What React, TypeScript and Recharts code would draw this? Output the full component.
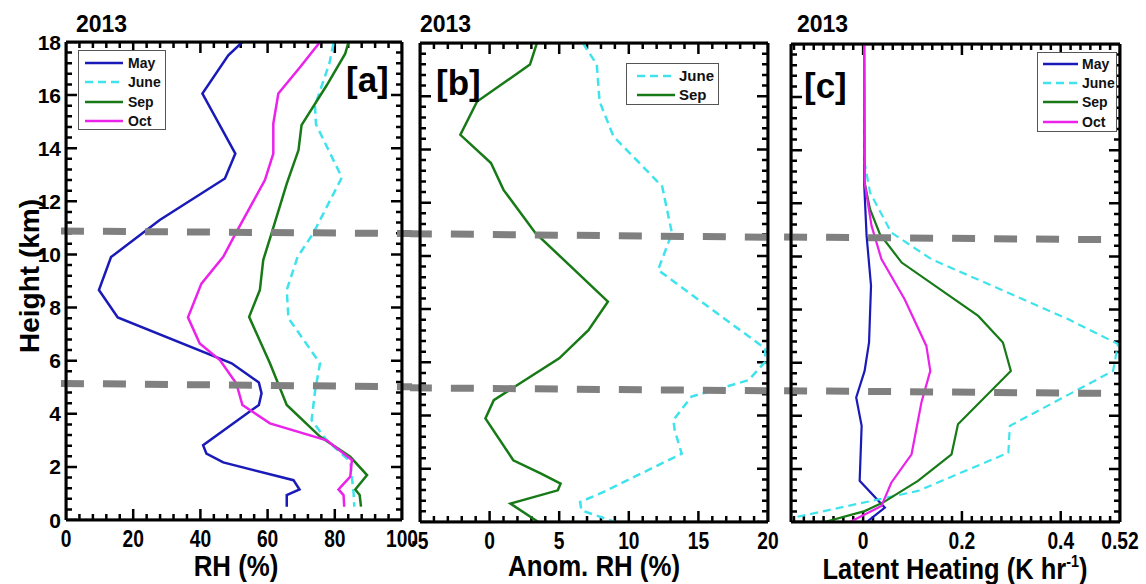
import React from "react";
import { LineChart, Line, XAxis, YAxis, ReferenceLine } from "recharts";

const SANS = "'Liberation Sans', Arial, sans-serif";

// axis ticks
const heightTicks = [0, 2, 4, 6, 8, 10, 12, 14, 16, 18];
const rhTicks = [0, 20, 40, 60, 80, 100];
const anomTicks = [-5, 0, 5, 10, 15, 20];
const lhTicks = [0, 0.2, 0.4, 0.52];

// [a] RH (%) profiles, height in km
const rhMayH = [18, 17.5, 16.06, 13.8, 12.86, 11.3, 9.9, 8.66, 7.63, 5.9, 5.18, 4.77, 4.33, 2.82, 2.5, 2.17, 1.5, 1.15, 0.94, 0.5];
const rhMay = [52.5, 48.3, 40.6, 50.4, 47.3, 27.9, 13.4, 9.8, 15.4, 49.3, 57.4, 58.2, 57.4, 40.8, 41.8, 46.8, 67.7, 69.5, 65.7, 65.7];
const rhJuneH = [17.94, 17.2, 15.6, 14.9, 12.9, 10.8, 9.9, 8.66, 7.6, 5.9, 4.83, 3.76, 3.0, 2.2, 1.0, 0.5];
const rhJune = [79.6, 78.4, 74.1, 74.4, 82.1, 73.6, 68.9, 65.7, 66.2, 75.6, 74.1, 73.1, 77.6, 84.6, 85.6, 85.8];
const rhSepH = [18, 17.56, 16.37, 14.87, 13.93, 12.67, 10.8, 9.79, 8.66, 7.65, 5.9, 4.33, 3.14, 2.38, 1.69, 1.15, 0.94, 0.5];
const rhSep = [84.1, 83.1, 77.6, 70.1, 69.2, 65.7, 61.2, 58.7, 57.7, 54.5, 60.7, 65.7, 75.6, 84.6, 89.6, 86.1, 87.4, 87.8];
const rhOctH = [18, 17.06, 16.06, 14.93, 13.8, 12.8, 10.79, 9.91, 8.9, 7.63, 6.65, 6.02, 5.14, 4.33, 3.64, 3.0, 2.26, 1.63, 1.15, 0.94, 0.5];
const rhOct = [75.6, 69.7, 63.2, 61.7, 61.7, 59.2, 50.5, 46.8, 40.3, 36.3, 39.8, 45.8, 50.7, 52.5, 60.7, 77.6, 85.1, 84.6, 81.1, 82.6, 82.8];

// [b] RH anomaly (%)
const anJuneH = [18, 17.19, 15.8, 14.49, 12.61, 10.85, 9.47, 6.52, 6.02, 5.33, 4.71, 3.83, 3.45, 2.57, 1.13, 0.75, 0.44, 0];
const anJune = [6.7, 7.7, 7.9, 8.9, 12.4, 13.1, 12.1, 19.8, 19.8, 18.6, 14.5, 13.2, 13.3, 13.8, 8.2, 6.5, 6.6, 9.0];
const anSepH = [18, 17.19, 15.8, 14.55, 13.49, 12.48, 10.85, 9.72, 8.28, 7.21, 6.15, 5.08, 4.58, 3.89, 2.32, 1.82, 1.44, 1.19, 0.69, 0];
const anSep = [3.4, 2.9, -0.9, -2.1, 0.1, 1.0, 3.3, 5.6, 8.5, 7.1, 5.0, 1.8, 0.3, -0.3, 1.7, 3.7, 5.1, 4.9, 1.5, 3.5];

// [c] latent heating (K/hr)
const lhMayH = [18, 12.79, 10.78, 8.9, 6.76, 5.69, 4.69, 3.62, 1.55, 0.54, 0];
const lhMay = [0.002, 0.002, 0.007, 0.016, 0.012, 0.003, -0.014, -0.003, -0.007, 0.044, 0.007];
const lhJuneH = [18, 13.54, 12.41, 10.9, 9.9, 7.64, 6.7, 5.69, 3.62, 2.61, 1.17, 0.16];
const lhJune = [0.002, 0.003, 0.014, 0.057, 0.138, 0.415, 0.516, 0.506, 0.297, 0.294, 0.111, -0.142];
const lhSepH = [18, 12.79, 11.78, 10.84, 9.77, 7.76, 6.76, 5.69, 3.68, 2.55, 1.55, 0.73, 0.41, 0];
const lhSep = [0.002, 0.003, 0.014, 0.034, 0.078, 0.233, 0.283, 0.299, 0.192, 0.179, 0.111, 0.04, 0.003, -0.078];
const lhOctH = [18, 12.79, 11.16, 9.9, 8.39, 6.63, 5.69, 4.5, 2.55, 1.48, 0.6, 0];
const lhOct = [0.002, 0.003, 0.017, 0.037, 0.084, 0.128, 0.136, 0.118, 0.098, 0.057, 0.037, -0.027];

// grey dashed layer bounds: [height at left edge, height at right edge]
const guidesA = [[10.88, 10.79], [5.14, 5.02]];
const guidesB = [[10.83, 10.7], [5.04, 4.93]];
const guidesC = [[10.73, 10.63], [4.94, 4.84]];

const styles: Record<string, { color: string; dash?: string }> = {
  May: { color: "#1a1ab8" },
  June: { color: "#3fe3ec", dash: "8 5" },
  Sep: { color: "#177a17" },
  Oct: { color: "#ea22ea" },
};

type Series = { name: string; h: number[]; v: number[] };
type Pt = { v: number; h: number };
const toPoints = (h: number[], v: number[]) => h.map((hh, i) => ({ h: hh, v: v[i] }));

// tick positions every `step` between lo and hi, majors merged in
function allTicks(lo: number, hi: number, step: number, majors: number[]) {
  const out: number[] = [];
  const n0 = Math.ceil(lo / step - 1e-9);
  const n1 = Math.floor(hi / step + 1e-9);
  for (let i = n0; i <= n1; i++) out.push(Math.round(i * step * 1000) / 1000);
  majors.forEach((m) => {
    if (!out.some((t) => Math.abs(t - m) < 1e-6)) out.push(m);
  });
  return out.sort((a, b) => a - b);
}
const isMajor = (majors: number[], t: number) => majors.some((m) => Math.abs(m - t) < 1e-6);

const bottomLabel = (props: any) => (
  <text transform={`translate(${props.x},${props.y}) scale(0.8,1)`} textAnchor="middle" dominantBaseline="central"
    fontFamily={SANS} fontWeight="bold" fontSize={24} fill="#000">
    {String(props.payload.value)}
  </text>
);
const leftLabel = (props: any) => (
  <text x={props.x} y={props.y} textAnchor="end" dominantBaseline="central" fontFamily={SANS} fontWeight="bold" fontSize={21} fill="#000">
    {String(props.payload.value)}
  </text>
);

type PanelProps = {
  left: number;
  width: number;
  plot: { top: number; left: number; right: number; bottom: number };
  series: Series[];
  domain: [number, number];
  majors: number[];
  minorStep: number;
  guides: number[][];
  guideX: [number, number];
  yLabels: boolean;
  lineWidth: number;
};

function Panel(p: PanelProps) {
  const [d0, d1] = p.domain;
  const plotW = p.width - p.plot.left - p.plot.right;
  const plotH = 584 - p.plot.top - p.plot.bottom;
  const kmPerPx = 18 / plotH;
  const xPerPx = (d1 - d0) / plotW;
  const frame = { stroke: "#000", strokeWidth: 3 };
  const slope = (g: number[], x: number) => g[0] + ((g[1] - g[0]) * (x - d0)) / (d1 - d0);

  // inward tick marks drawn as comb lines along each side of the frame (11px major, 6px minor)
  const xt = allTicks(d0, d1, p.minorStep, p.majors);
  const yt = allTicks(0, 18, 0.4, heightTicks);
  const xLen = (t: number) => (isMajor(p.majors, t) ? 11 : 6) * kmPerPx;
  const yLen = (h: number) => (isMajor(heightTicks, h) ? 11 : 6) * xPerPx;
  const combs: Pt[][] = [
    xt.flatMap((t) => [{ v: t, h: 0 }, { v: t, h: xLen(t) }, { v: t, h: 0 }]),
    xt.flatMap((t) => [{ v: t, h: 18 }, { v: t, h: 18 - xLen(t) }, { v: t, h: 18 }]),
    yt.flatMap((h) => [{ v: d0, h }, { v: d0 + yLen(h), h }, { v: d0, h }]),
    yt.flatMap((h) => [{ v: d1, h }, { v: d1 - yLen(h), h }, { v: d1, h }]),
  ];

  // one 1px axis band per side
  const margin = { top: p.plot.top - 1, left: p.plot.left - 1, right: p.plot.right - 1, bottom: p.plot.bottom - 1 };
  return (
    <div style={{ position: "absolute", left: p.left, top: 0 }}>
      <LineChart width={p.width} height={584} margin={margin}>
        <XAxis xAxisId="b" dataKey="v" type="number" domain={p.domain} allowDataOverflow ticks={p.majors} interval={0}
          height={1} tickSize={-11} tickMargin={30} tickLine={false} axisLine={frame} tick={bottomLabel} />
        <XAxis xAxisId="t" orientation="top" type="number" domain={p.domain} allowDataOverflow ticks={p.majors} interval={0}
          height={1} tickLine={false} axisLine={frame} tick={false} />
        <YAxis yAxisId="l" type="number" domain={[0, 18]} allowDataOverflow ticks={heightTicks} interval={0}
          width={1} tickSize={-11} tickMargin={16} tickLine={false} axisLine={frame} tick={p.yLabels ? leftLabel : false} />
        <YAxis yAxisId="r" orientation="right" type="number" domain={[0, 18]} allowDataOverflow ticks={heightTicks} interval={0}
          width={1} tickLine={false} axisLine={frame} tick={false} />
        {combs.map((c, i) => (
          <Line key={`tick${i}`} xAxisId="b" yAxisId="l" data={c} dataKey="h" type="linear" stroke="#000" strokeWidth={2.5}
            dot={false} activeDot={false} isAnimationActive={false} legendType="none" />
        ))}
        {p.series.map((s) => (
          <Line key={s.name} xAxisId="b" yAxisId="l" data={toPoints(s.h, s.v)} dataKey="h" type="linear"
            stroke={styles[s.name].color} strokeDasharray={styles[s.name].dash} strokeWidth={p.lineWidth}
            dot={false} activeDot={false} isAnimationActive={false} />
        ))}
        {p.guides.map((g, i) => (
          <ReferenceLine key={`g${i}`} xAxisId="b" yAxisId="l" ifOverflow="visible"
            segment={[{ x: p.guideX[0], y: slope(g, p.guideX[0]) }, { x: p.guideX[1], y: slope(g, p.guideX[1]) }]}
            stroke="#808080" strokeWidth={7} strokeDasharray="23 19" />
        ))}
      </LineChart>
    </div>
  );
}

function LegendBox(props: {
  left: number; top: number; width: number; height: number; names: string[];
  rowTop: number; gap: number; lineLeft: number; lineLen: number; textLeft: number; fontSize: number;
}) {
  return (
    <div style={{ position: "absolute", left: props.left, top: props.top, width: props.width, height: props.height,
      border: "1.5px solid #555", background: "#fff", boxSizing: "border-box" }}>
      {props.names.map((n, i) => (
        <React.Fragment key={n}>
          <svg style={{ position: "absolute", left: props.lineLeft, top: props.rowTop + i * props.gap - 3 }} width={props.lineLen} height={6}>
            <line x1={0} y1={3} x2={props.lineLen} y2={3} stroke={styles[n].color} strokeWidth={2.5} strokeDasharray={styles[n].dash} />
          </svg>
          <div style={{ position: "absolute", left: props.textLeft, top: props.rowTop + i * props.gap - 10, lineHeight: "20px",
            fontFamily: SANS, fontWeight: "bold", fontSize: props.fontSize, color: "#111" }}>
            {n}
          </div>
        </React.Fragment>
      ))}
    </div>
  );
}

const txt = (left: number, top: number, s: React.ReactNode, size: number, extra: React.CSSProperties = {}) => (
  <div style={{ position: "absolute", left, top, fontFamily: SANS, fontWeight: "bold", fontSize: size, lineHeight: 1, color: "#000", whiteSpace: "nowrap", ...extra }}>
    {s}
  </div>
);

export default function App() {
  const seriesA: Series[] = [
    { name: "May", h: rhMayH, v: rhMay },
    { name: "June", h: rhJuneH, v: rhJune },
    { name: "Sep", h: rhSepH, v: rhSep },
    { name: "Oct", h: rhOctH, v: rhOct },
  ];
  const seriesB: Series[] = [
    { name: "June", h: anJuneH, v: anJune },
    { name: "Sep", h: anSepH, v: anSep },
  ];
  const seriesC: Series[] = [
    { name: "May", h: lhMayH, v: lhMay },
    { name: "June", h: lhJuneH, v: lhJune },
    { name: "Sep", h: lhSepH, v: lhSep },
    { name: "Oct", h: lhOctH, v: lhOct },
  ];
  const narrow = (sx: number) => ({ transform: `translateX(-50%) scaleX(${sx})`, transformOrigin: "50% 0" });

  return (
    <div style={{ position: "absolute", left: 0, top: 0, width: 1146, height: 584, background: "#fff", overflow: "hidden" }}>
      <Panel left={0} width={420} plot={{ top: 42, left: 66, right: 18, bottom: 64 }} series={seriesA}
        domain={[0, 100]} majors={rhTicks} minorStep={4} guides={guidesA} guideX={[-1.5, 103]} yLabels lineWidth={2.5} />
      <Panel left={410} width={370} plot={{ top: 43, left: 10, right: 12, bottom: 62 }} series={seriesB}
        domain={[-5, 20]} majors={anomTicks} minorStep={1} guides={guidesB} guideX={[-5.8, 21]} yLabels={false} lineWidth={2.5} />
      <Panel left={780} width={366} plot={{ top: 44, left: 11, right: 26, bottom: 62 }} series={seriesC}
        domain={[-0.146, 0.52]} majors={lhTicks} minorStep={0.02} guides={guidesC} guideX={[-0.16, 0.52]} yLabels={false} lineWidth={2.2} />

      {txt(76, 13, "2013", 23)}
      {txt(420, 13, "2013", 23)}
      {txt(797, 13, "2013", 23)}

      {txt(346, 62, "[a]", 35)}
      {txt(436, 65, "[b]", 35)}
      {txt(804, 68, "[c]", 35)}

      {txt(-50, 262, "Height (km)", 28, { transform: "rotate(-90deg)", width: 160, textAlign: "center" })}
      {txt(236, 551, "RH (%)", 30, narrow(0.86))}
      {txt(594, 551, "Anom. RH (%)", 30, narrow(0.86))}
      {txt(955, 553, <span>Latent Heating (K hr<sup style={{ fontSize: 17, verticalAlign: 12 }}>-1</sup>)</span>, 30, narrow(0.85))}

      <LegendBox left={78} top={50} width={88} height={80} names={["May", "June", "Sep", "Oct"]}
        rowTop={12} gap={19.4} lineLeft={6} lineLen={38} textLeft={49} fontSize={14} />
      <LegendBox left={626} top={63} width={93} height={42} names={["June", "Sep"]}
        rowTop={12} gap={19} lineLeft={10} lineLen={38} textLeft={52} fontSize={15} />
      <LegendBox left={1037} top={52} width={80} height={80} names={["May", "June", "Sep", "Oct"]}
        rowTop={11} gap={19.2} lineLeft={5} lineLen={35} textLeft={44} fontSize={14} />
    </div>
  );
}
